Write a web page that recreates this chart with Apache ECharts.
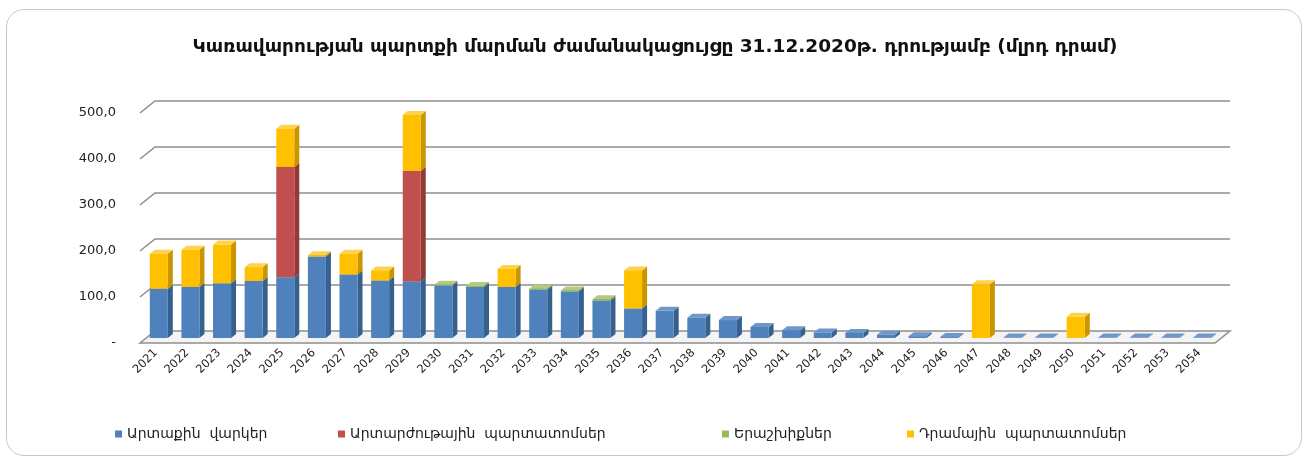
<!DOCTYPE html>
<html>
<head>
<meta charset="utf-8">
<script src="https://cdn.jsdelivr.net/npm/echarts@6/dist/echarts.min.js"></script>
<style>
  html, body { margin: 0; padding: 0; background: #fff; }
  .frame {
    position: absolute; left: 6px; top: 9px; width: 1296px; height: 447px;
    border: 1px solid #c8c8c8; border-radius: 18px; box-sizing: border-box;
  }
  #chart { position: absolute; left: 0; top: 0; width: 1310px; height: 461px; }
</style>
</head>
<body>
<div class="frame"></div>
<div id="chart"></div>
<script>
const years = ['2021','2022','2023','2024','2025','2026','2027','2028','2029','2030','2031','2032','2033','2034','2035','2036','2037',
  '2038','2039','2040','2041','2042','2043','2044','2045','2046','2047','2048','2049','2050','2051','2052','2053','2054'];

// մլրդ դրամ
const externalLoans = [107, 111, 119, 124, 132, 177, 138, 125, 123, 114, 111, 111, 105, 101, 81, 64, 59,
  44, 39, 24, 17, 12, 11, 7, 4, 2, 0, 1, 1, 0, 1, 1, 1, 1];
const fxBonds = [0, 0, 0, 0, 240, 0, 0, 0, 240, 0, 0, 0, 0, 0, 0, 0, 0,
  0, 0, 0, 0, 0, 0, 0, 0, 0, 0, 0, 0, 0, 0, 0, 0, 0];
const guarantees = [0, 0, 0, 0, 0, 0, 0, 0, 0, 2, 2, 0, 2, 2, 3, 0, 0,
  0, 0, 0, 0, 0, 0, 0, 0, 0, 0, 0, 0, 0, 0, 0, 0, 0];
const amdBonds = [76, 81, 84, 30, 83, 3, 45, 22, 122, 0, 0, 39, 0, 0, 0, 83, 0,
  0, 0, 0, 0, 0, 0, 0, 0, 0, 117, 0, 0, 46, 0, 0, 0, 0];

const yTicks = [0, 100, 200, 300, 400, 500];

const names = ['Արտաքին  վարկեր', 'Արտարժութային  պարտատոմսեր', 'Երաշխիքներ', 'Դրամային  պարտատոմսեր'];
const values = [externalLoans, fxBonds, guarantees, amdBonds];
const colors = [
  { front: '#4f81bd', side: '#36618f', top: '#6f97c9' },
  { front: '#c0504d', side: '#933a37', top: '#d0706d' },
  { front: '#9bbb59', side: '#759040', top: '#b2cc7c' },
  { front: '#ffc000', side: '#c99600', top: '#ffd24d' }
];

const font = '"DejaVu Sans", "Noto Sans", sans-serif';

// 3D bar offsets
const barDx = 3, barDy = -5, depthX = 5, depthY = 4;
// back wall offsets
const wallDx = 15, wallDy = -12;

const chart = echarts.init(document.getElementById('chart'));

const bases = years.map(() => 0);
const barSeries = values.map((arr, si) => {
  const data = arr.map((v, i) => {
    const item = [i, v, bases[i]];
    bases[i] += v;
    return item;
  });
  const c = colors[si];
  return {
    name: names[si],
    type: 'custom',
    z: 10 + si,
    itemStyle: { color: c.front },
    encode: { x: 0, y: 1 },
    data: data,
    renderItem: function (params, api) {
      const v = api.value(1);
      if (!v) return null;
      const i = api.value(0), b = api.value(2);
      const p0 = api.coord([i, b]);
      const p1 = api.coord([i, b + v]);
      const bw = api.size([1, 0])[0] * 0.57;
      const x0 = p0[0] - bw / 2 + barDx;
      const yb = p0[1] + barDy, yt = p1[1] + barDy;
      return {
        type: 'group',
        children: [
          { type: 'polygon', shape: { points: [[x0 + bw, yt], [x0 + bw + depthX, yt - depthY], [x0 + bw + depthX, yb - depthY], [x0 + bw, yb]] },
            style: { fill: c.side } },
          { type: 'polygon', shape: { points: [[x0, yt], [x0 + depthX, yt - depthY], [x0 + bw + depthX, yt - depthY], [x0 + bw, yt]] },
            style: { fill: c.top } },
          { type: 'rect', shape: { x: x0, y: yt, width: bw, height: Math.max(yb - yt, 0) },
            style: { fill: c.front } }
        ]
      };
    }
  };
});

const wallSeries = {
  type: 'custom',
  silent: true,
  z: 1,
  encode: { x: 0, y: 1 },
  data: yTicks.map(v => [0, v]),
  renderItem: function (params, api) {
    const v = api.value(1);
    const y = api.coord([0, v])[1];
    const left = params.coordSys.x, right = params.coordSys.x + params.coordSys.width;
    if (v === 0) {
      return {
        type: 'polygon',
        shape: { points: [[left, y], [left + wallDx, y + wallDy], [right + wallDx, y + wallDy], [right, y]] },
        style: { fill: '#f4f4f4', stroke: '#8f8f8f', lineWidth: 1.6 }
      };
    }
    return {
      type: 'polyline',
      shape: { points: [[left, y], [left + wallDx, y + wallDy], [right + wallDx, y + wallDy]] },
      style: { stroke: '#8f8f8f', lineWidth: 1.6, fill: null }
    };
  }
};

const legendLeft = [110, 333, 717, 902];
const legends = names.map((n, i) => ({
  data: [n],
  left: legendLeft[i],
  top: 422,
  itemWidth: 7,
  itemHeight: 7,
  itemGap: 6,
  icon: 'rect',
  textStyle: { fontFamily: font, fontSize: 14, color: '#222' }
}));

const option = {
  animation: false,
  title: {
    text: 'Կառավարության պարտքի մարման ժամանակացույցը 31.12.2020թ. դրությամբ (մլրդ դրամ)',
    left: 'center',
    top: 33,
    textStyle: { fontFamily: font, fontSize: 18.5, fontWeight: 'bold', color: '#111' }
  },
  legend: legends,
  grid: { left: 140, right: 95, top: 113, bottom: 118 },
  xAxis: {
    type: 'category',
    data: years,
    axisLine: { show: false },
    axisTick: { show: false },
    axisLabel: { rotate: 45, interval: 0, margin: 8, fontFamily: font, fontSize: 11.5, color: '#222' }
  },
  yAxis: {
    type: 'value',
    min: 0,
    max: 500,
    interval: 100,
    splitLine: { show: false },
    axisLine: { show: false },
    axisTick: { show: false },
    axisLabel: {
      margin: 24,
      fontFamily: font,
      fontSize: 13,
      color: '#222',
      formatter: v => v === 0 ? '-' : v.toFixed(1).replace('.', ',')
    }
  },
  series: [wallSeries].concat(barSeries)
};

chart.setOption(option);
window.addEventListener('resize', () => chart.resize());
</script>
</body>
</html>
